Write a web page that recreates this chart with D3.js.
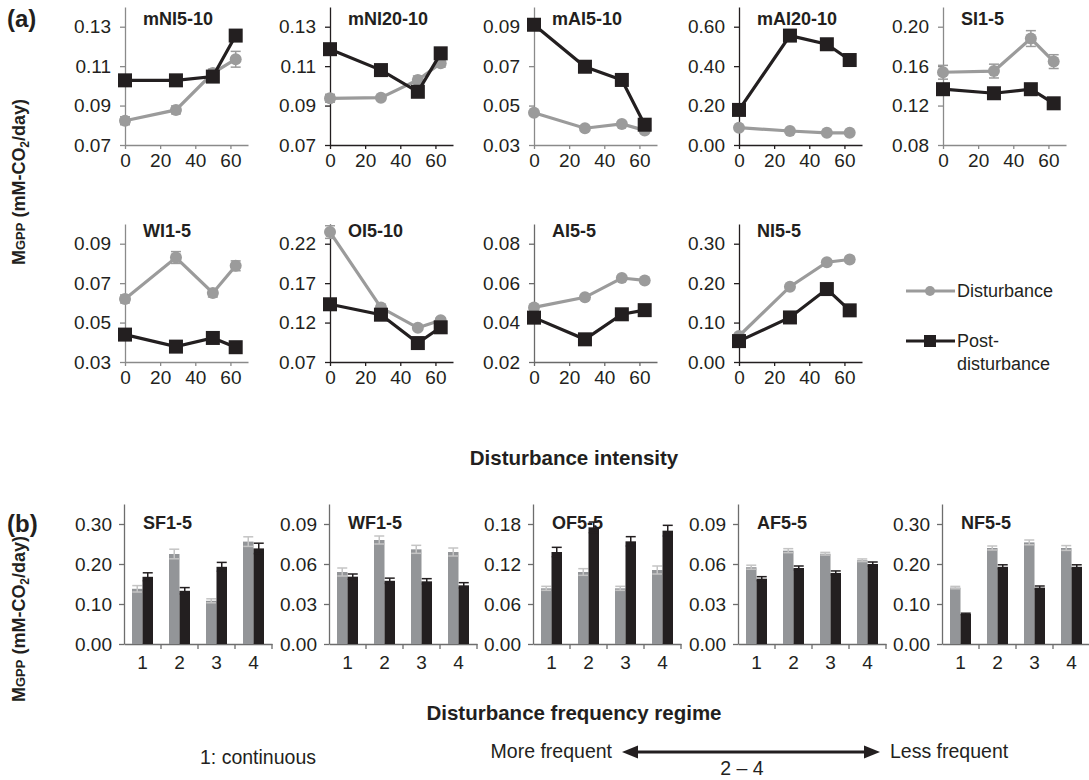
<!DOCTYPE html>
<html>
<head>
<meta charset="utf-8">
<script src="https://cdn.jsdelivr.net/npm/d3@7"></script>
<style>
body { margin: 0; background: #fff; }
text { font-family: "Liberation Sans", Arial, sans-serif; fill: #231f20; }
</style>
</head>
<body>
<div id="chart"></div>
<script>
// ---- Data, panel (a): disturbance intensity ----
var namesA = ['mNI5-10', 'mNI20-10', 'mAI5-10', 'mAI20-10', 'SI1-5',
              'WI1-5', 'OI5-10', 'AI5-5', 'NI5-5'];
var intensity = [0, 29, 50, 63];
var intensityTicks = [0, 20, 40, 60];
var ticksA = [
    [0.07, 0.09, 0.11, 0.13], [0.07, 0.09, 0.11, 0.13], [0.03, 0.05, 0.07, 0.09],
    [0.00, 0.20, 0.40, 0.60], [0.08, 0.12, 0.16, 0.20], [0.03, 0.05, 0.07, 0.09],
    [0.07, 0.12, 0.17, 0.22], [0.02, 0.04, 0.06, 0.08], [0.00, 0.10, 0.20, 0.30]];
var distA = [
    [0.0823, 0.0878, 0.1065, 0.1135], [0.0937, 0.0940, 0.1030, 0.1115],
    [0.0464, 0.0385, 0.0407, 0.0374], [0.088, 0.071, 0.062, 0.062],
    [0.1538, 0.1550, 0.1880, 0.1646], [0.0620, 0.0830, 0.0650, 0.0788],
    [0.2348, 0.1390, 0.1133, 0.1229], [0.0477, 0.0528, 0.0626, 0.0614],
    [0.066, 0.191, 0.253, 0.260]];
var distErrA = [
    [0.002, 0.002, 0.002, 0.004], [0.002, 0.001, 0.002, 0.002],
    [0.001, 0.001, 0.001, 0.001], [0.005, 0.005, 0.005, 0.005],
    [0.007, 0.007, 0.008, 0.007], [0.002, 0.003, 0.002, 0.0025],
    [0.008, 0.004, 0.003, 0.003], [0.001, 0.001, 0.001, 0.001],
    [0.004, 0.004, 0.006, 0.006]];
var postA = [
    [0.1028, 0.1028, 0.1047, 0.1255], [0.1186, 0.1080, 0.0970, 0.1165],
    [0.0910, 0.0697, 0.0630, 0.0403], [0.178, 0.555, 0.511, 0.431],
    [0.1366, 0.1325, 0.1366, 0.1223], [0.0439, 0.0378, 0.0422, 0.0375],
    [0.1432, 0.1300, 0.0940, 0.1140], [0.0425, 0.0315, 0.0442, 0.0463],
    [0.0530, 0.1130, 0.1850, 0.1310]];

// ---- Data, panel (b): disturbance frequency regime ----
var namesB = ['SF1-5', 'WF1-5', 'OF5-5', 'AF5-5', 'NF5-5'];
var regimes = [1, 2, 3, 4];
var ticksB = [
    [0.00, 0.10, 0.20, 0.30], [0.00, 0.03, 0.06, 0.09], [0.00, 0.06, 0.12, 0.18],
    [0.00, 0.03, 0.06, 0.09], [0.00, 0.10, 0.20, 0.30]];
var distB = [
    [0.138, 0.225, 0.108, 0.256], [0.054, 0.078, 0.071, 0.069],
    [0.0835, 0.108, 0.0835, 0.111], [0.0576, 0.0700, 0.0677, 0.0628],
    [0.141, 0.240, 0.254, 0.240]];
var distErrB = [
    [0.008, 0.012, 0.005, 0.012], [0.003, 0.003, 0.003, 0.003],
    [0.003, 0.005, 0.003, 0.006], [0.0015, 0.0015, 0.001, 0.001],
    [0.003, 0.005, 0.006, 0.006]];
var postB = [
    [0.168, 0.133, 0.193, 0.239], [0.0505, 0.0474, 0.0470, 0.0440],
    [0.138, 0.175, 0.154, 0.170], [0.0490, 0.0570, 0.0533, 0.0600],
    [0.075, 0.193, 0.141, 0.193]];
var postErrB = [
    [0.010, 0.008, 0.011, 0.013], [0.002, 0.002, 0.002, 0.002],
    [0.007, 0.008, 0.007, 0.008], [0.0015, 0.0015, 0.0015, 0.0015],
    [0.002, 0.005, 0.004, 0.005]];

// ---- Layout ----
var colX = [125, 330, 534, 739, 943];
var rowTopA = [7, 224];
var titleYA = [18, 13];
var wA = 123, hA = 138;
var topB = 504, wB = 148, hB = 140;
var grey = '#9b9b9b', dark = '#231f20', barGrey = '#939598';
var axisColA = ['#8a8a8a', dark, '#8a8a8a', dark, '#8a8a8a', '#8a8a8a', dark, '#6a6a6a', dark];
var fs = '18px', tickFs = '19px', noteFs = '19.5px';

var svg = d3.select('#chart').append('svg')
    .attr('width', 1089)
    .attr('height', 780);

function styleAxis(sel, col) {
    sel.select('.domain').attr('stroke', col).attr('stroke-width', 1.3);
    sel.selectAll('.tick line').attr('stroke', col).attr('stroke-width', 1.3);
    sel.selectAll('.tick text').attr('font-size', tickFs).attr('fill', dark)
        .attr('font-family', '"Liberation Sans", Arial, sans-serif');
}

// ---- Panel (a) ----
namesA.forEach(function(name, i) {
    var row = i < 5 ? 0 : 1, col = i % 5;
    var g = svg.append('g')
        .attr('transform', 'translate(' + colX[col] + ',' + rowTopA[row] + ')');
    var t = ticksA[i], step = t[1] - t[0];
    var y = d3.scaleLinear().domain([t[0], t[3] + step / 2]).range([hA, 0]);
    var x = d3.scaleLinear().domain([0, 70]).range([0, wA]);

    g.append('g').attr('transform', 'translate(0,' + hA + ')')
        .call(d3.axisBottom(x).tickValues(intensityTicks).tickSize(4).tickPadding(5).tickSizeOuter(0))
        .call(styleAxis, axisColA[i]);
    g.append('g')
        .call(d3.axisLeft(y).tickValues(t).tickFormat(d3.format('.2f')).tickSize(5).tickPadding(9).tickSizeOuter(0))
        .call(styleAxis, axisColA[i]);

    var dist = d3.zip(intensity, distA[i], distErrA[i]);
    var post = d3.zip(intensity, postA[i]);
    var line = d3.line().x(function(d) { return x(d[0]); }).y(function(d) { return y(d[1]); });

    g.append('path').datum(dist).attr('d', line)
        .attr('fill', 'none').attr('stroke', grey).attr('stroke-width', 3.2);
    var eb = g.selectAll('.eb').data(dist).enter().append('g');
    eb.append('line')
        .attr('x1', function(d) { return x(d[0]); }).attr('x2', function(d) { return x(d[0]); })
        .attr('y1', function(d) { return y(d[1] - d[2]); }).attr('y2', function(d) { return y(d[1] + d[2]); })
        .attr('stroke', grey).attr('stroke-width', 1.5);
    [-1, 1].forEach(function(s) {
        eb.append('line')
            .attr('x1', function(d) { return x(d[0]) - 5; }).attr('x2', function(d) { return x(d[0]) + 5; })
            .attr('y1', function(d) { return y(d[1] + s * d[2]); }).attr('y2', function(d) { return y(d[1] + s * d[2]); })
            .attr('stroke', grey).attr('stroke-width', 1.5);
    });
    g.selectAll('.dot').data(dist).enter().append('circle')
        .attr('cx', function(d) { return x(d[0]); })
        .attr('cy', function(d) { return y(d[1]); })
        .attr('r', 6).attr('fill', grey);

    g.append('path').datum(post).attr('d', line)
        .attr('fill', 'none').attr('stroke', dark).attr('stroke-width', 3.2);
    g.selectAll('.sq').data(post).enter().append('rect')
        .attr('x', function(d) { return x(d[0]) - 7; })
        .attr('y', function(d) { return y(d[1]) - 7; })
        .attr('width', 14).attr('height', 14).attr('fill', dark);

    g.append('text').text(name)
        .attr('x', 18).attr('y', titleYA[row])
        .attr('font-size', fs).attr('font-weight', 'bold');
});

// ---- Panel (b) ----
namesB.forEach(function(name, i) {
    var g = svg.append('g')
        .attr('transform', 'translate(' + (colX[i] - 1) + ',' + topB + ')');
    var t = ticksB[i], step = t[1] - t[0];
    var y = d3.scaleLinear().domain([0, t[3] + step / 2]).range([hB, 0]);
    var x = d3.scaleBand().domain(regimes).range([0, wB]);
    var bw = 10.5;

    var xAxis = g.append('g').attr('transform', 'translate(0,' + hB + ')')
        .call(d3.axisBottom(x).tickSize(0).tickPadding(12))
        .call(styleAxis, '#6d6d6d');
    // tick marks sit between the categories
    xAxis.selectAll('.sep').data(regimes).enter().append('line')
        .attr('x1', function(d, k) { return x.step() * (k + 1); })
        .attr('x2', function(d, k) { return x.step() * (k + 1); })
        .attr('y1', 0).attr('y2', 5)
        .attr('stroke', '#6d6d6d').attr('stroke-width', 1.3);
    g.append('g')
        .call(d3.axisLeft(y).tickValues(t).tickFormat(d3.format('.2f')).tickSize(5).tickPadding(7).tickSizeOuter(0))
        .call(styleAxis, '#6d6d6d');

    var series = [
        {vals: distB[i], errs: distErrB[i], fill: barGrey, err: '#c4c4c4', off: -bw},
        {vals: postB[i], errs: postErrB[i], fill: dark, err: dark, off: 0}];
    series.forEach(function(s) {
        var rows = d3.zip(regimes, s.vals, s.errs);
        g.selectAll(null).data(rows).enter().append('rect')
            .attr('x', function(d) { return x(d[0]) + x.bandwidth() / 2 + s.off; })
            .attr('y', function(d) { return y(d[1]); })
            .attr('width', bw)
            .attr('height', function(d) { return hB - y(d[1]); })
            .attr('fill', s.fill);
        var cx = function(d) { return x(d[0]) + x.bandwidth() / 2 + s.off + bw / 2; };
        g.selectAll(null).data(rows).enter().append('line')
            .attr('x1', cx).attr('x2', cx)
            .attr('y1', function(d) { return y(d[1] - d[2]); })
            .attr('y2', function(d) { return y(d[1] + d[2]); })
            .attr('stroke', s.err).attr('stroke-width', 1.5);
        [-1, 1].forEach(function(sg) {
            g.selectAll(null).data(rows).enter().append('line')
                .attr('x1', function(d) { return cx(d) - 5; })
                .attr('x2', function(d) { return cx(d) + 5; })
                .attr('y1', function(d) { return y(d[1] + sg * d[2]); })
                .attr('y2', function(d) { return y(d[1] + sg * d[2]); })
                .attr('stroke', s.err).attr('stroke-width', 1.5);
        });
    });

    g.append('text').text(name)
        .attr('x', 19).attr('y', 25)
        .attr('font-size', fs).attr('font-weight', 'bold');
});

// ---- Labels ----
svg.append('text').text('(a)').attr('x', 7).attr('y', 27)
    .attr('font-size', '24px').attr('font-weight', 'bold');
svg.append('text').text('(b)').attr('x', 7).attr('y', 532)
    .attr('font-size', '24px').attr('font-weight', 'bold');

function yLabel(cy) {
    var t = svg.append('text')
        .attr('transform', 'translate(25,' + cy + ')rotate(-90)')
        .attr('text-anchor', 'middle')
        .attr('font-size', fs).attr('font-weight', 'bold');
    t.append('tspan').text('M');
    t.append('tspan').text('GPP').attr('font-size', '13px');
    t.append('tspan').text(' (mM-CO');
    t.append('tspan').text('2').attr('font-size', '12px').attr('dy', 4);
    t.append('tspan').text('/day)').attr('dy', -4);
}
yLabel(182);
yLabel(619);

svg.append('text').text('Disturbance intensity')
    .attr('x', 574).attr('y', 465).attr('text-anchor', 'middle')
    .attr('font-size', '20.5px').attr('font-weight', 'bold');
svg.append('text').text('Disturbance frequency regime')
    .attr('x', 574).attr('y', 720).attr('text-anchor', 'middle')
    .attr('font-size', '20.5px').attr('font-weight', 'bold');

// Legend
var legend = svg.append('g');
legend.append('line').attr('x1', 906).attr('x2', 955).attr('y1', 291).attr('y2', 291)
    .attr('stroke', grey).attr('stroke-width', 3.2);
legend.append('circle').attr('cx', 930).attr('cy', 291).attr('r', 5).attr('fill', grey);
legend.append('text').text('Disturbance').attr('x', 957).attr('y', 297).attr('font-size', fs);
legend.append('line').attr('x1', 906).attr('x2', 955).attr('y1', 341).attr('y2', 341)
    .attr('stroke', dark).attr('stroke-width', 3.2);
legend.append('rect').attr('x', 924).attr('y', 335).attr('width', 12).attr('height', 12).attr('fill', dark);
legend.append('text').text('Post-').attr('x', 957).attr('y', 347).attr('font-size', fs);
legend.append('text').text('disturbance').attr('x', 957).attr('y', 370).attr('font-size', fs);

// Bottom note
svg.append('text').text('1: continuous').attr('x', 258).attr('y', 764)
    .attr('text-anchor', 'middle').attr('font-size', noteFs);
svg.append('text').text('More frequent').attr('x', 612).attr('y', 758)
    .attr('text-anchor', 'end').attr('font-size', noteFs);
svg.append('text').text('Less frequent').attr('x', 890).attr('y', 758).attr('font-size', noteFs);
svg.append('text').text('2 \u2013 4').attr('x', 742).attr('y', 775)
    .attr('text-anchor', 'middle').attr('font-size', noteFs);
var ax0 = 622, ax1 = 880, ay = 752;
svg.append('line').attr('x1', ax0 + 8).attr('x2', ax1 - 8).attr('y1', ay).attr('y2', ay)
    .attr('stroke', dark).attr('stroke-width', 2.8);
svg.append('path').attr('d', 'M' + ax0 + ',' + ay + 'l16,-6.5l0,13z').attr('fill', dark);
svg.append('path').attr('d', 'M' + ax1 + ',' + ay + 'l-16,-6.5l0,13z').attr('fill', dark);
</script>
</body>
</html>
